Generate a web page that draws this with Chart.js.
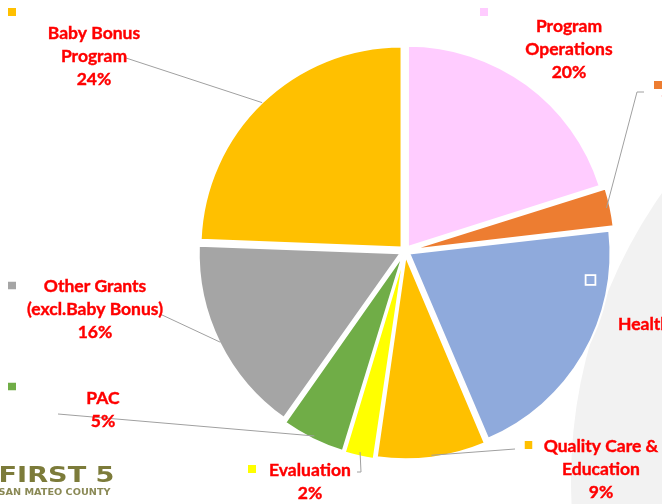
<!DOCTYPE html>
<html>
<head>
<meta charset="utf-8">
<script src="https://cdn.jsdelivr.net/npm/chart.js@4"></script>
<style>
  html, body { margin: 0; padding: 0; background: #fff; }
  #wrap { position: relative; width: 662px; height: 504px; overflow: hidden; }
</style>
</head>
<body>
<div id="wrap"><canvas id="budgetPie" width="662" height="504"></canvas></div>
<script>
// budget split, clockwise from 12 o'clock
const categories = [
   ['Program', 'Operations'],
   ['Administration'],
   ['Health'],
   ['Quality Care &', 'Education'],
   ['Evaluation'],
   ['PAC'],
   ['Other Grants', '(excl.Baby Bonus)'],
   ['Baby Bonus', 'Program']
];
const shares = [20.1, 3.1, 20.4, 8.7, 2.4, 5.1, 15.8, 24.4];
const sliceColors = ['#FFCCFF', '#ED7D31', '#8FAADC', '#FFC000', '#FFFF00', '#70AD47', '#A5A5A5', '#FFC000'];

// where each data label sits (center x, first baseline), its key square and leader line bends
const labelLayout = [
   { cx: 569, y: 32,  key: [480, 8] },
   { cx: 720, y: 96,  key: [654, 81], leader: [[637, 92], [644, 92]] },
   { left: 618, y: 330, key: [586.5, 276], showPct: false },
   { cx: 601, y: 452, key: [524.5, 441], leader: [[515, 449]] },
   { cx: 310, y: 476, key: [248, 465], leader: [[361, 472], [357, 472]] },
   { cx: 103, y: 404, key: [8, 382.5], leader: [[58, 414]] },
   { cx: 95,  y: 291.5, key: [8, 281.5], leader: [[160, 314]] },
   { cx: 94,  y: 39,  key: [8, 8], leader: [[126, 58]] }
];

const LABEL_FONT = 'bold 17.5px Lato';
const LINE_H = 23;

const backdrop = {
   id: 'backdrop',
   beforeDatasetsDraw(chart) {
      const ctx = chart.ctx;
      ctx.save();
      ctx.fillStyle = '#F2F2F2';
      ctx.beginPath();
      ctx.arc(1069, 480, 498, 0, Math.PI * 2);
      ctx.fill();
      ctx.restore();
   }
};

const pieLabels = {
   id: 'pieLabels',
   afterDatasetsDraw(chart) {
      const ctx = chart.ctx;
      const meta = chart.getDatasetMeta(0);
      const total = shares.reduce((a, b) => a + b, 0);
      ctx.save();

      meta.data.forEach((arc, i) => {
         const lay = labelLayout[i];
         const p = arc.getProps(['x', 'y', 'startAngle', 'endAngle', 'outerRadius'], true);
         const mid = (p.startAngle + p.endAngle) / 2;
         const r = p.outerRadius + (arc.options.offset || 0) / 4;

         // leader line
         if (lay.leader) {
            ctx.strokeStyle = '#A0A0A0';
            ctx.lineWidth = 1;
            ctx.beginPath();
            ctx.moveTo(p.x + Math.cos(mid) * r, p.y + Math.sin(mid) * r);
            lay.leader.forEach(pt => ctx.lineTo(pt[0], pt[1]));
            ctx.stroke();
         }

         // legend key
         ctx.fillStyle = sliceColors[i];
         ctx.fillRect(lay.key[0], lay.key[1], 8, 8);
         ctx.strokeStyle = '#fff';
         ctx.lineWidth = 1.8;
         ctx.strokeRect(lay.key[0] - 0.9, lay.key[1] - 0.9, 9.8, 9.8);

         // text
         const lines = categories[i].slice();
         if (lay.showPct !== false) lines.push(Math.round(shares[i] / total * 100) + '%');
         ctx.fillStyle = '#FF0000';
         ctx.strokeStyle = '#FF0000';
         ctx.lineWidth = 0.4;
         ctx.font = LABEL_FONT;
         ctx.textBaseline = 'alphabetic';
         ctx.textAlign = lay.left !== undefined ? 'left' : 'center';
         const tx = lay.left !== undefined ? lay.left : lay.cx;
         lines.forEach((ln, k) => {
            ctx.fillText(ln, tx, lay.y + k * LINE_H);
            ctx.strokeText(ln, tx, lay.y + k * LINE_H);
         });
      });

      // logo, bottom left
      ctx.textAlign = 'left';
      ctx.fillStyle = '#7C7B3A';
      ctx.font = 'bold 22px "DejaVu Sans"';
      let w = ctx.measureText('FIRST 5').width;
      ctx.save();
      ctx.translate(-1.5, 481.5);
      ctx.scale(116 / w, 1);
      ctx.fillText('FIRST 5', 0, 0);
      ctx.restore();
      ctx.fillStyle = '#8A8955';
      ctx.font = 'bold 9.5px "DejaVu Sans"';
      w = ctx.measureText('SAN MATEO COUNTY').width;
      ctx.save();
      ctx.translate(-1.5, 494.5);
      ctx.scale(112 / w, 1);
      ctx.fillText('SAN MATEO COUNTY', 0, 0);
      ctx.restore();

      ctx.restore();
   }
};

new Chart(document.getElementById('budgetPie'), {
   type: 'pie',
   data: {
      labels: categories,
      datasets: [{
         data: shares,
         backgroundColor: sliceColors,
         borderColor: '#fff',
         borderWidth: 2,
         offset: 20,
         radius: 201
      }]
   },
   options: {
      responsive: false,
      animation: false,
      events: [],
      layout: { padding: { left: 148, top: 0, right: 0, bottom: 2 } },
      plugins: {
         legend: { display: false },
         tooltip: { enabled: false }
      }
   },
   plugins: [backdrop, pieLabels]
});
</script>
</body>
</html>
